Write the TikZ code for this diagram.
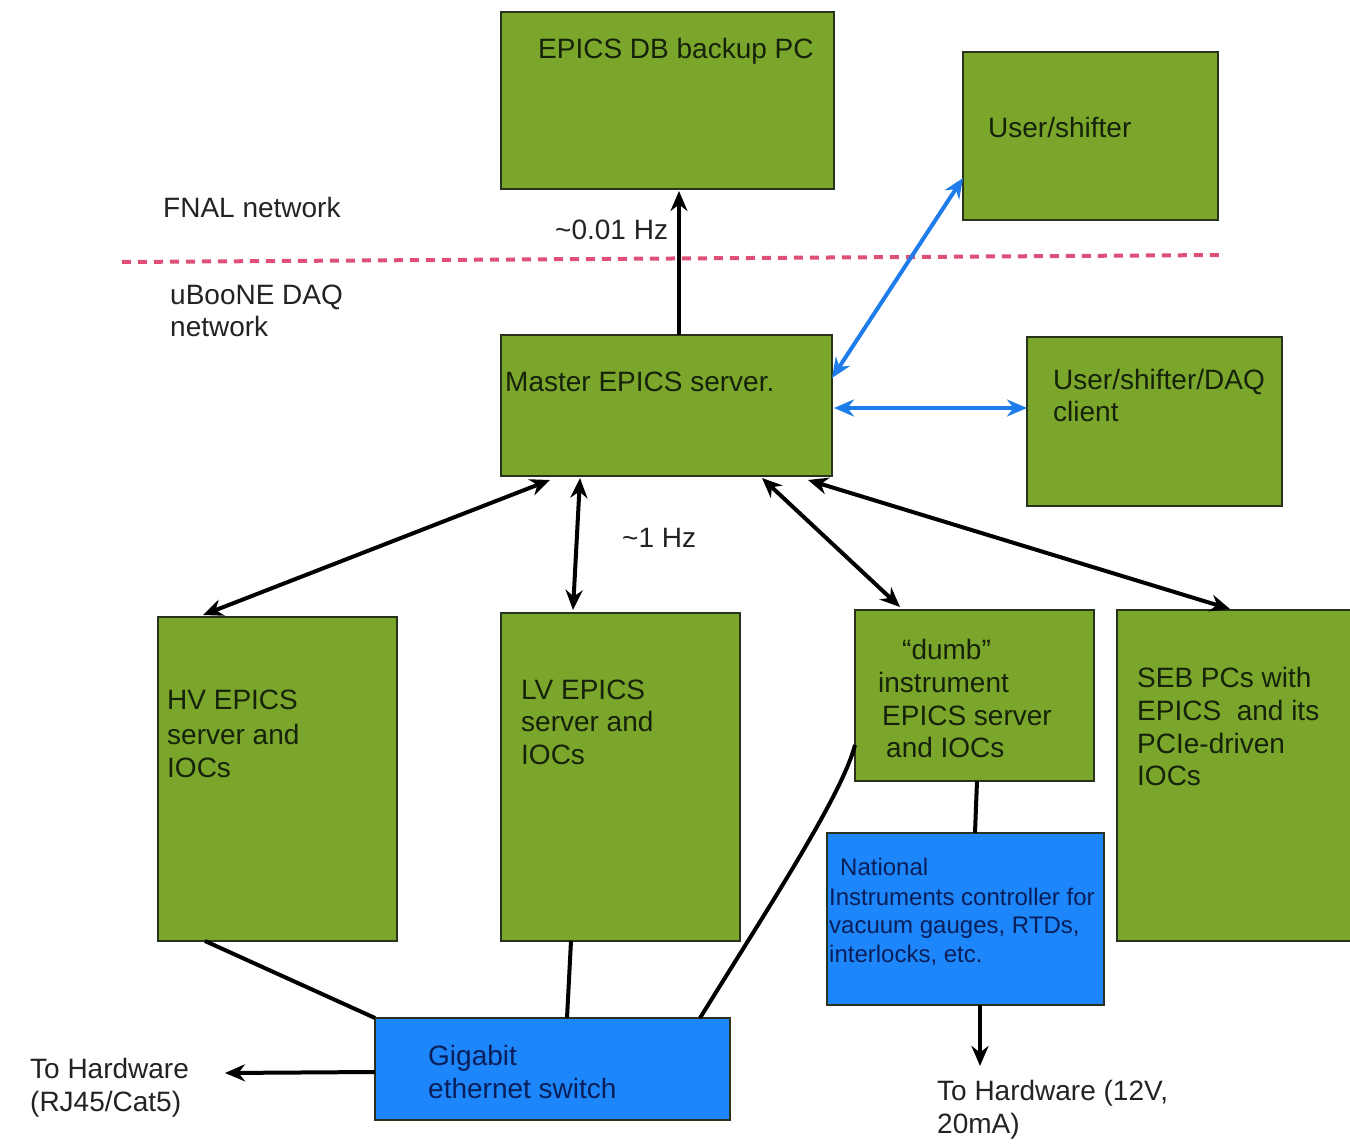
\documentclass[tikz,border=0pt]{standalone}
\usepackage{fontspec}
\setmainfont{Liberation Sans}
\usetikzlibrary{arrows.meta}
\definecolor{boxgreen}{RGB}{122,166,44}
\definecolor{boxblue}{RGB}{28,134,250}
\definecolor{edgedark}{RGB}{40,50,28}
\definecolor{arrowblue}{RGB}{30,125,235}
\definecolor{dashpink}{RGB}{222,80,120}
\definecolor{txtout}{RGB}{35,35,35}
\definecolor{txtin}{RGB}{22,34,10}
\definecolor{txtblue}{RGB}{10,30,90}
\tikzset{
  gbox/.style={draw=edgedark, fill=boxgreen, line width=2.5pt, inner sep=0pt, outer sep=0pt, anchor=north west},
  bbox/.style={draw=edgedark, fill=boxblue, line width=2.5pt, inner sep=0pt, outer sep=0pt, anchor=north west},
  lbl/.style={anchor=base west, inner sep=0pt, font=\fontsize{28}{33}\selectfont, text=txtout},
  inlbl/.style={lbl, text=txtin},
  nilbl/.style={anchor=base west, inner sep=0pt, font=\fontsize{24}{28}\selectfont, text=txtblue},
  swlbl/.style={lbl, text=txtblue},
  conn/.style={line width=4pt, draw=black},
  uni/.style={conn, -{Stealth[length=20pt,width=17pt]}},
  bi/.style={conn, {Stealth[length=20pt,width=17pt]}-{Stealth[length=20pt,width=17pt]}},
  bluebi/.style={bi, draw=arrowblue, color=arrowblue}
}
\begin{document}
\begin{tikzpicture}[x=1pt,y=-1pt]
\useasboundingbox (0,0) rectangle (1350,1147);
\fill[white] (0,0) rectangle (1350,1147);

% boxes
\node[gbox, minimum width=333pt, minimum height=177pt] (db) at (501,12) {};
\node[gbox, minimum width=255pt, minimum height=168pt] (user) at (963,52) {};
\node[gbox, minimum width=331pt, minimum height=141pt] (master) at (501,335) {};
\node[gbox, minimum width=255pt, minimum height=169pt] (daq) at (1027,337) {};
\node[gbox, minimum width=239pt, minimum height=324pt] (hv) at (158,617) {};
\node[gbox, minimum width=239pt, minimum height=328pt] (lv) at (501,613) {};
\node[gbox, minimum width=239pt, minimum height=171pt] (dumb) at (855,610) {};
\node[gbox, minimum width=240pt, minimum height=331pt] (seb) at (1117,610) {};
\node[bbox, minimum width=277pt, minimum height=172pt] (ni) at (827,833) {};
\node[bbox, minimum width=355pt, minimum height=102pt] (sw) at (375,1018) {};

% dashed network border
\coordinate (dl) at (122,262);
\coordinate (dr) at (1222,255);
\draw[dashpink, line width=4pt, dash pattern=on 9pt off 7pt] (dl) -- (dr);

% texts
\node[inlbl] (tdb) at (538,59) {EPICS DB backup PC};
\node[inlbl] (tuser) at (988,138) {User/shifter};
\node[lbl] (tfnal) at (163,218) {FNAL network};
\node[lbl] (tfreq1) at (555,240) {\textasciitilde0.01 Hz};
\node[lbl] (tdaqnet1) at (170,305) {uBooNE DAQ};
\node[lbl] (tdaqnet2) at (170,337) {network};
\node[inlbl] (tmaster) at (505,392) {Master EPICS server.};
\node[inlbl] (tdaq1) at (1053,390) {User/shifter/DAQ};
\node[inlbl] (tdaq2) at (1053,422) {client};
\node[lbl] (tfreq2) at (622,547) {\textasciitilde1 Hz};
\node[inlbl] (thv1) at (167,709) {HV EPICS};
\node[inlbl] (thv2) at (167,744) {server and};
\node[inlbl] (thv3) at (167,777) {IOCs};
\node[inlbl] (tlv1) at (521,699) {LV EPICS};
\node[inlbl] (tlv2) at (521,731) {server and};
\node[inlbl] (tlv3) at (521,764) {IOCs};
\node[inlbl] (tdu1) at (902,659) {“dumb”};
\node[inlbl] (tdu2) at (878,692) {instrument};
\node[inlbl] (tdu3) at (882,725) {EPICS server};
\node[inlbl] (tdu4) at (886,757) {and IOCs};
\node[inlbl] (tseb1) at (1137,687) {SEB PCs with};
\node[inlbl] (tseb2) at (1137,720) {EPICS\ \ and its};
\node[inlbl] (tseb3) at (1137,753) {PCIe-driven};
\node[inlbl] (tseb4) at (1137,785) {IOCs};
\node[nilbl] (tni1) at (840,875) {National};
\node[nilbl] (tni2) at (829,905) {Instruments controller for};
\node[nilbl] (tni3) at (829,933) {vacuum gauges, RTDs,};
\node[nilbl] (tni4) at (829,962) {interlocks, etc.};
\node[swlbl] (tsw1) at (428,1065) {Gigabit};
\node[swlbl] (tsw2) at (428,1098) {ethernet switch};
\node[lbl] (thw1a) at (30,1078) {To Hardware};
\node[lbl] (thw1b) at (30,1111) {(RJ45/Cat5)};
\node[lbl] (thw2a) at (937,1100) {To Hardware (12V,};
\node[lbl] (thw2b) at (937,1133) {20mA)};

% free ends
\coordinate (hw1) at (225,1073);
\coordinate (hw2) at (980,1066);

% connectors
\draw[uni] ([xshift=178pt]master.north west) -- ([xshift=178pt,yshift=-2pt]db.south west);
\draw[bluebi] ([yshift=-43pt]master.north east) -- ([yshift=-126pt]user.north west);
\draw[bluebi] ([yshift=-73pt,xshift=2pt]master.north east) -- ([yshift=-71pt]daq.north west);
\draw[bi] ([xshift=49pt,yshift=-4pt]master.south west) -- ([xshift=45pt,yshift=2pt]hv.north west);
\draw[bi] ([xshift=79pt,yshift=-2pt]master.south west) -- ([xshift=72pt,yshift=3pt]lv.north west);
\draw[bi] ([xshift=261pt,yshift=-2pt]master.south west) -- ([xshift=45pt,yshift=3pt]dumb.north west);
\draw[bi] ([xshift=307pt,yshift=-4pt]master.south west) -- ([xshift=113pt,yshift=1pt]seb.north west);
\draw[conn] ([xshift=47pt]hv.south west) -- (sw.north west);
\draw[conn] ([xshift=70pt]lv.south west) -- ([xshift=192pt]sw.north west);
\draw[conn] ([yshift=-135pt]dumb.north west) .. controls (842,795) and (770,905) .. ([xshift=325pt]sw.north west);
\draw[conn] ([xshift=122pt]dumb.south west) -- ([xshift=148pt]ni.north west);
\draw[uni] ([xshift=153pt]ni.south west) -- (hw2);
\draw[uni] ([yshift=-54pt]sw.north west) -- (hw1);
\end{tikzpicture}
\end{document}
